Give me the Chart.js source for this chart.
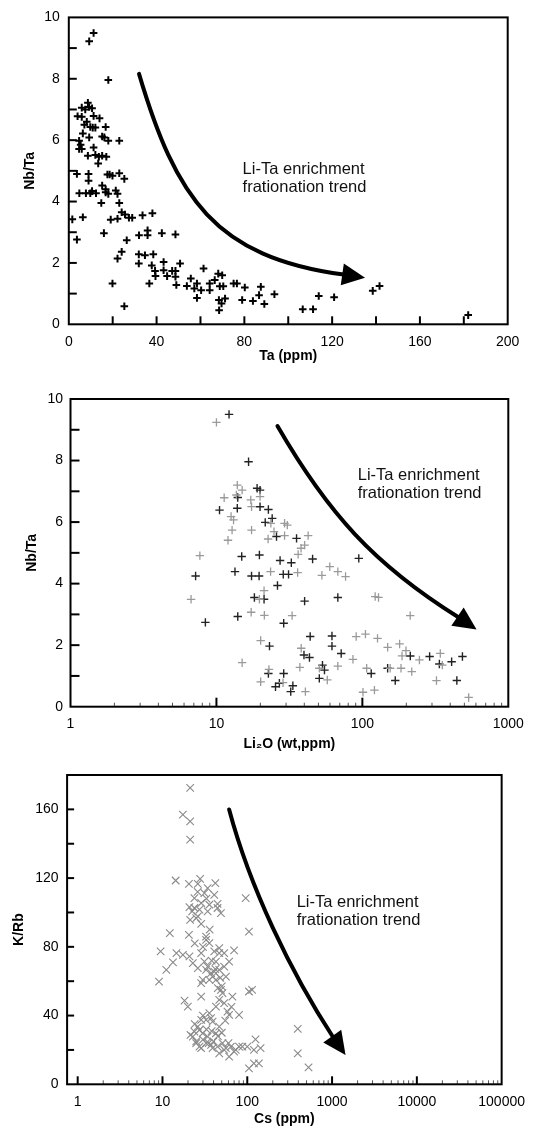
<!DOCTYPE html>
<html><head><meta charset="utf-8">
<script src="https://cdn.jsdelivr.net/npm/chart.js@4/dist/chart.umd.min.js"></script>
<style>
html,body{margin:0;padding:0;background:#fff;}
#wrap{position:relative;width:534px;height:1128px;overflow:hidden;background:#fff;}
canvas{position:absolute;left:0;}
</style></head><body>
<div id="wrap">
<canvas id="c1" width="534" height="368" style="top:0px;width:534px;height:368px"></canvas>
<canvas id="c2" width="534" height="387" style="top:368px;width:534px;height:387px"></canvas>
<canvas id="c3" width="534" height="373" style="top:755px;width:534px;height:373px"></canvas>
</div>
<script>
// ---------- Panel 1: Nb/Ta vs Ta ----------
const taPpm = [9.3,11.3,18.0,8.7,9.3,5.9,7.5,10.6,4.0,5.9,11.3,14.0,8.2,7.1,9.8,10.9,12.1,16.8,6.4,9.3,15.2,16.2,18.0,23.0,4.7,5.4,4.7,5.9,11.3,8.7,12.1,13.7,15.2,17.1,13.4,3.7,9.0,9.0,17.6,18.6,19.9,23.0,25.3,15.2,16.8,4.8,7.8,9.8,10.6,12.4,16.8,18.0,21.4,22.2,14.8,23.0,24.1,25.6,27.4,28.9,22.2,19.1,1.6,6.4,33.6,38.1,16.0,3.7,26.4,32.0,35.9,35.9,42.4,48.6,22.2,24.1,31.9,34.7,38.5,31.9,37.8,39.3,39.5,43.2,43.2,44.8,47.1,48.6,50.7,48.6,49.0,36.7,19.9,25.3,53.8,55.6,61.4,57.2,58.4,58.4,60.3,64.2,64.2,66.5,68.1,68.8,69.9,70.4,68.4,69.6,68.5,71.2,75.1,76.6,80.2,79.0,83.9,86.7,87.5,89.1,93.7,106.6,111.3,113.9,120.9,138.5,141.6,182.0];
const nbTa1 = [9.22,9.49,7.96,7.22,7.08,7.06,7.0,7.04,6.78,6.76,6.79,6.71,6.6,6.5,6.43,6.41,6.41,6.43,6.22,6.09,6.12,6.09,5.98,5.98,5.98,5.85,5.71,5.71,5.76,5.49,5.52,5.46,5.49,5.46,5.24,4.9,4.9,4.68,4.88,4.88,4.84,4.92,4.74,4.52,4.4,4.27,4.27,4.27,4.34,4.27,4.3,4.25,4.36,4.25,3.95,3.95,3.65,3.58,3.47,3.47,3.44,3.41,3.42,3.49,3.55,3.62,2.97,2.76,2.74,2.9,3.06,2.9,2.97,2.93,2.14,2.36,2.28,2.25,2.28,1.98,1.92,1.74,1.57,2.03,1.76,1.57,1.74,1.74,1.98,1.55,1.28,1.33,1.33,0.59,1.25,1.49,1.82,1.17,1.33,0.86,1.11,1.33,1.11,1.44,1.65,1.24,1.6,1.24,0.79,0.68,0.46,0.84,1.33,1.33,1.2,0.79,0.76,0.95,1.22,0.66,0.98,0.49,0.49,0.92,0.88,1.09,1.25,0.3];
const xLabels1 = [0,40,80,120,160,200];
const yLabels1 = [0,2,4,6,8,10];
const xTickMarks1 = [20,40,60,80,100,120,140,160,180];
const yTickMarks1 = [1,2,3,4,5,6,7,8,9];
const arrow1 = {x:[32.0,48.8,66.5,125.2,135.0], y:[8.16,4.11,2.19,1.62,1.52]};
const note1 = {x:79.2, y:5.04};

// ---------- Panel 2: Nb/Ta vs Li2O ----------
const li2oDark = [12.2,16.6,19.0,19.9,14.0,10.5,13.9,19.9,22.7,21.6,24.1,25.8,35.4,14.9,19.7,27.3,32.6,45.6,94.5,7.2,13.4,17.4,19.6,28.7,31.2,26.2,18.2,21.2,40.2,67.9,8.4,14.0,28.9,23.1,43.9,61.9,39.8,43.4,61.9,71.6,213,289,337,409,485,22.7,28.9,53.3,55.0,50.7,115,149,168,25.4,27,32.3,33.4,444];
const nbTaDark = [9.5,7.96,7.1,7.04,6.8,6.39,6.45,6.5,6.41,5.99,6.12,5.53,5.47,4.88,4.93,4.75,4.68,4.8,4.82,4.25,4.39,4.25,4.25,4.3,4.3,3.94,3.55,3.49,3.43,3.55,2.74,2.93,2.71,1.97,2.28,2.3,1.68,1.6,1.97,1.73,1.65,1.63,1.39,1.46,1.63,1.08,1.08,1.35,1.19,0.92,1.08,1.25,0.85,0.65,0.76,0.49,0.68,0.85];
const li2oLight = [10.0,13.9,15.0,13.7,11.3,17.2,19.9,17.4,12.6,13.1,23.6,29.3,30.6,12.8,17.4,24.8,22.6,29.3,42.5,12.0,40.2,38.0,7.7,36.3,23.5,36.0,52.8,59.8,67.9,76.7,21.2,19.7,6.7,122.4,129,212.7,17.3,21.3,33.0,20.1,90.7,105,127,38.1,86.2,149,180,199,187,246,342,353,15.0,22.9,37.3,50.7,57.5,67.9,107,155,184,218,20.1,28.6,40.7,101,121,322,535];
const nbTaLight = [9.24,7.2,7.04,6.88,6.79,6.72,6.83,6.5,6.18,6.07,5.96,5.96,5.9,5.74,5.74,5.69,5.45,5.56,5.56,5.41,5.25,5.15,4.91,4.95,4.39,4.36,4.27,4.55,4.39,4.23,3.77,3.49,3.49,3.58,3.55,2.96,3.07,2.97,2.96,2.15,2.28,2.36,2.22,1.9,1.54,1.93,2.04,1.82,1.65,1.52,1.73,1.35,1.43,1.21,1.28,1.25,0.87,1.32,1.25,1.25,1.25,1.14,0.81,0.78,0.49,0.47,0.54,0.85,0.3];
const xLabels2 = [1,10,100,1000];
const yLabels2 = [0,2,4,6,8,10];
const xMajorMarks2 = [10,100];
const xMinorMarks2 = [2,3,4,5,6,7,8,9,20,30,40,50,60,70,80,90,200,300,400,500,600,700,800,900];
const yTickMarks2 = [1,2,3,4,5,6,7,8,9];
const arrow2 = {x:[26.2,57.6,119.9,458,606], y:[9.12,6.31,4.62,2.9,2.51]};
const note2 = {x:92.9, y:7.51};

// ---------- Panel 3: K/Rb vs Cs ----------
const csPpm = [21.2,17.4,21.2,21.2,14.3,20.5,27.8,26.1,34.1,42.0,95.8,23.8,20.8,28.6,35.7,44.6,22.4,27.3,48.9,21.2,25.0,28.6,104.7,12.2,20.5,32.7,35.7,9.5,14.6,17.4,20.8,28.6,40.8,46.7,53.4,69.9,13.3,11.1,22.8,26.1,34.1,37.4,40.8,46.7,53.4,56,9.1,29.8,35.7,48.9,51,66.8,104.7,114,18.2,19.9,28.6,42.7,58.4,80,61.1,35.7,37.4,32.7,46.7,27.3,22.8,29.8,125,25.0,32.7,37.4,44.6,53.4,64.0,73.1,87.5,100,119.7,143.5,104.7,119.7,137,28.6,46.7,61.1,394,394,528,31.2,40.8,23.8,34.1,26.1,44.6,32.7,46.7,31.2,42.7,32.7,39,42.7,61.1,28.6,46.7,53.4,26.1,28.6,23.8,39,42.7,34.1,27.3,39,51,69.9,80,56,21.4,25,30,35,40,33,45,38,24,50,60,30,55,65,45,50,42,48,38,30,24,36,26,33];
const kRb = [172.5,156.9,153,142.4,118.6,116.7,119.5,116.7,114.2,117.1,108.4,108.4,103.1,105.5,104.5,105,100.6,101.6,99.6,95.7,96.7,93.4,88.9,88,87,86,82.2,77.3,76.3,75.3,74.4,76.3,77.3,79.3,76.3,77.9,70.9,66.6,70.5,67.6,68.5,64.7,65.6,66.6,68.5,62.7,59.8,60.8,60.8,55,53,51,54,55,48.7,45.2,51,45.2,42.3,40.4,40.4,41.4,38.5,37.5,33.6,31.6,27.7,29.7,26.2,23.9,23.9,22.9,21.9,20,21.9,20,21.9,21.9,20,21,9.3,12.2,12.2,21,18,16.1,32.2,18,9.9,111.3,110.3,102.6,100.6,97.7,102.6,84.1,76.3,71.4,71.4,66.6,62.7,60.8,71.4,58.9,49.1,47.2,33.6,37.5,30.7,36.5,29.7,27.7,21.9,21,23.9,19,21.9,21,28.7,25,26,24,25,32,28,31,35,30,24,40,37,45,56,57,67,62,72,80,82,90,112,108];
const xLabels3 = [1,10,100,1000,10000,100000];
const yLabels3 = [0,40,80,120,160];
const xMajorMarks3 = [1,10,100,1000,10000];
const xMinorMarks3 = [2,3,4,5,6,7,8,9,20,30,40,50,60,70,80,90,200,300,400,500,600,700,800,900,2000,3000,4000,5000,6000,7000,8000,9000,20000,30000,40000,50000,60000,70000,80000,90000];
const yTickMarks3 = [20,40,60,80,100,120,140,160];
const arrow3 = {x:[61.1,107,320.6,1047,1442], y:[159.9,114.8,65.7,26.8,17.1]};
const note3 = {x:382, y:105.8};

const noteLines = ['Li-Ta enrichment','frationation trend'];
const FONT = "'Liberation Sans', Arial, sans-serif";
Chart.defaults.font.family = FONT;
Chart.defaults.color = '#000';

function pts(xs, ys){ return xs.map((v,i)=>({x:v, y:ys[i]})); }

function decorPlugin(o){
  return {
    id:'decor',
    afterDatasetsDraw(chart){
      const ctx = chart.ctx, a = chart.chartArea, sx = chart.scales.x, sy = chart.scales.y;
      ctx.save();
      ctx.strokeStyle = '#000';
      ctx.lineCap = 'butt';
      const seg = (x1,y1,x2,y2,w,c)=>{ctx.beginPath();ctx.lineWidth=w;ctx.strokeStyle=c||'#000';ctx.moveTo(x1,y1);ctx.lineTo(x2,y2);ctx.stroke();};
      o.yMarks.forEach(v=>{const p=sy.getPixelForValue(v); seg(a.left,p,a.left+o.yLen,p,2);});
      o.xMajor.forEach(v=>{const p=sx.getPixelForValue(v); seg(p,a.bottom,p,a.bottom-o.xLen,2);});
      (o.xMinor||[]).forEach(v=>{const p=sx.getPixelForValue(v); seg(p,a.bottom,p,a.bottom-o.xMinLen,1,'#555');});
      ctx.lineWidth = 2; ctx.strokeStyle='#000';
      ctx.strokeRect(a.left, a.top, a.right-a.left, a.bottom-a.top);
      // arrow
      const P = o.arrow.x.map((v,i)=>[sx.getPixelForValue(v), sy.getPixelForValue(o.arrow.y[i])]);
      ctx.beginPath(); ctx.lineWidth = 4; ctx.lineCap='round';
      ctx.moveTo(P[0][0],P[0][1]);
      ctx.bezierCurveTo(P[1][0],P[1][1],P[2][0],P[2][1],P[3][0],P[3][1]);
      ctx.stroke();
      const dx=P[4][0]-P[3][0], dy=P[4][1]-P[3][1], L=Math.hypot(dx,dy);
      const nx=-dy/L, ny=dx/L, hw=11;
      const bx=P[4][0]-dx/L*23, by=P[4][1]-dy/L*23;
      ctx.beginPath(); ctx.fillStyle='#000';
      ctx.moveTo(P[4][0],P[4][1]);
      ctx.lineTo(bx+nx*hw,by+ny*hw);
      ctx.lineTo(bx-nx*hw,by-ny*hw);
      ctx.closePath(); ctx.fill();
      // note
      ctx.font = '16.5px '+FONT; ctx.textBaseline='middle'; ctx.textAlign='left'; ctx.fillStyle='#111';
      const tx=sx.getPixelForValue(o.note.x), ty=sy.getPixelForValue(o.note.y);
      noteLines.forEach((t,i)=>ctx.fillText(t,tx,ty+i*18.3));
      ctx.restore();
    }
  };
}

function makeChart(id, o){
  new Chart(document.getElementById(id), {
    type:'scatter',
    data:{datasets:o.datasets},
    options:{
      responsive:false, animation:false, devicePixelRatio:1,
      layout:{padding:{left:0,top:o.top,right:o.right,bottom:0}},
      plugins:{legend:{display:false}, tooltip:{enabled:false}},
      scales:{
        x:{type:o.xType, min:o.xMin, max:o.xMax, position:'bottom',
          afterBuildTicks:s=>{s.ticks=o.xLabels.map(v=>({value:v}));},
          afterFit:s=>{s.height=o.xH;},
          grid:{display:false, drawTicks:false}, border:{display:false},
          ticks:{padding:9, autoSkip:false, maxRotation:0, color:'#000', font:{size:14}, callback:v=>String(v)},
          title:{display:true, text:o.xTitle, color:'#000', font:{size:14, weight:'bold'}, padding:{top:0,bottom:o.xTitlePad}}},
        y:{type:'linear', min:o.yMin, max:o.yMax,
          afterBuildTicks:s=>{s.ticks=o.yLabels.map(v=>({value:v}));},
          afterFit:s=>{s.width=o.yW;},
          grid:{display:false, drawTicks:false}, border:{display:false},
          ticks:{padding:o.yPad, autoSkip:false, color:'#000', font:{size:14}, callback:v=>String(v)},
          title:{display:true, text:o.yTitle, color:'#000', font:{size:14, weight:'bold'}, padding:{top:o.yTitlePad,bottom:0}}}
      }
    },
    plugins:[decorPlugin(o)]
  });
}

makeChart('c1', {
  datasets:[{data:pts(taPpm,nbTa1), pointStyle:'cross', pointRadius:3.8, borderColor:'#000', borderWidth:2}],
  top:16, right:26.3, xH:43.7, yW:68.8, xType:'linear', xMin:0, xMax:200, yMin:0, yMax:10,
  xLabels:xLabels1, yLabels:yLabels1, xTitle:'Ta (ppm)', yTitle:'Nb/Ta', xTitlePad:3.6, yTitlePad:21.6, yPad:9,
  yMarks:yTickMarks1, yLen:8, xMajor:xTickMarks1, xLen:8, xMinor:[], xMinLen:4, arrow:arrow1, note:note1
});
makeChart('c2', {
  datasets:[
    {data:pts(li2oLight,nbTaLight), pointStyle:'cross', pointRadius:4.2, borderColor:'#9a9a9a', borderWidth:1.3},
    {data:pts(li2oDark,nbTaDark), pointStyle:'cross', pointRadius:4.2, borderColor:'#222', borderWidth:1.4}],
  top:31, right:25.7, xH:48.3, yW:70.5, xType:'logarithmic', xMin:1, xMax:1000, yMin:0, yMax:10,
  xLabels:xLabels2, yLabels:yLabels2, xTitle:'Li\u2082O (wt,ppm)', yTitle:'Nb/Ta', xTitlePad:2.6, yTitlePad:24, yPad:7.5,
  yMarks:yTickMarks2, yLen:9, xMajor:xMajorMarks2, xLen:9, xMinor:xMinorMarks2, xMinLen:4, arrow:arrow2, note:note2
});
makeChart('c3', {
  datasets:[{data:pts(csPpm,kRb), pointStyle:'crossRot', pointRadius:5.3, borderColor:'#8a8a8a', borderWidth:1.1}],
  top:20, right:28, xH:43.7, yW:67.1, xType:'logarithmic', xMin:0.75, xMax:100000, yMin:0, yMax:180,
  xLabels:xLabels3, yLabels:yLabels3, xTitle:'Cs (ppm)', yTitle:'K/Rb', xTitlePad:0, yTitlePad:10.3, yPad:8.5,
  yMarks:yTickMarks3, yLen:7, xMajor:xMajorMarks3, xLen:8, xMinor:xMinorMarks3, xMinLen:4, arrow:arrow3, note:note3
});
</script>
</body></html>
